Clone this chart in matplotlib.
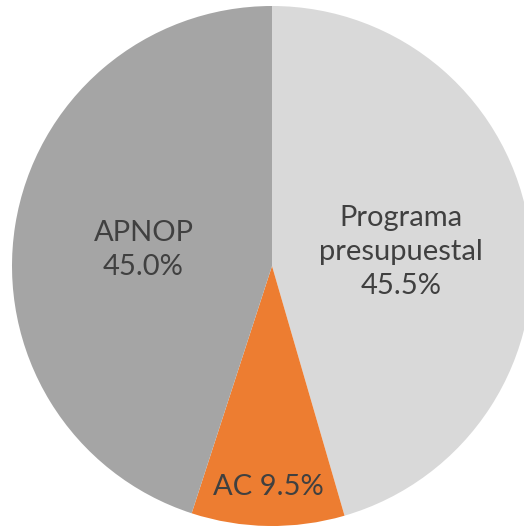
import numpy as np
import matplotlib
matplotlib.use("Agg")
import matplotlib.pyplot as plt

labels = ["Programa\npresupuestal", "AC", "APNOP"]
values = [45.5, 9.5, 45.0]
pct_labels = ["45.5%", "9.5%", "45.0%"]
colors = ["#D9D9D9", "#ED7D31", "#A5A5A5"]
label_sep = ["\n", " ", "\n"]
label_dist = [0.5, 0.85, 0.5]

W, H = 524, 528
fig = plt.figure(figsize=(W / 100, H / 100), dpi=100)
ax = fig.add_axes([0, 0, 1, 1])

cx, cy, r = 272, H - 266, 260

wedges, _ = ax.pie(values, colors=colors, startangle=90, counterclock=False,
                   center=(cx, cy), radius=r,
                   wedgeprops=dict(linewidth=0))

# -------------------------
# Slice labels
# -------------------------
for w, lab, pct, sep, d in zip(wedges, labels, pct_labels, label_sep, label_dist):
    mid = np.deg2rad((w.theta1 + w.theta2) / 2)
    x = cx + d * r * np.cos(mid)
    y = cy + d * r * np.sin(mid) - (4 if sep == "\n" else 0)
    ax.text(x, y, lab + sep + pct, ha="center", va="center",
            fontsize=21, color="#404040", family="Lato", linespacing=1.38)

ax.set_xlim(0, W)
ax.set_ylim(0, H)
ax.set_aspect("equal", adjustable="datalim")
ax.axis("off")

fig.savefig("out.png", dpi=100, facecolor="white")
